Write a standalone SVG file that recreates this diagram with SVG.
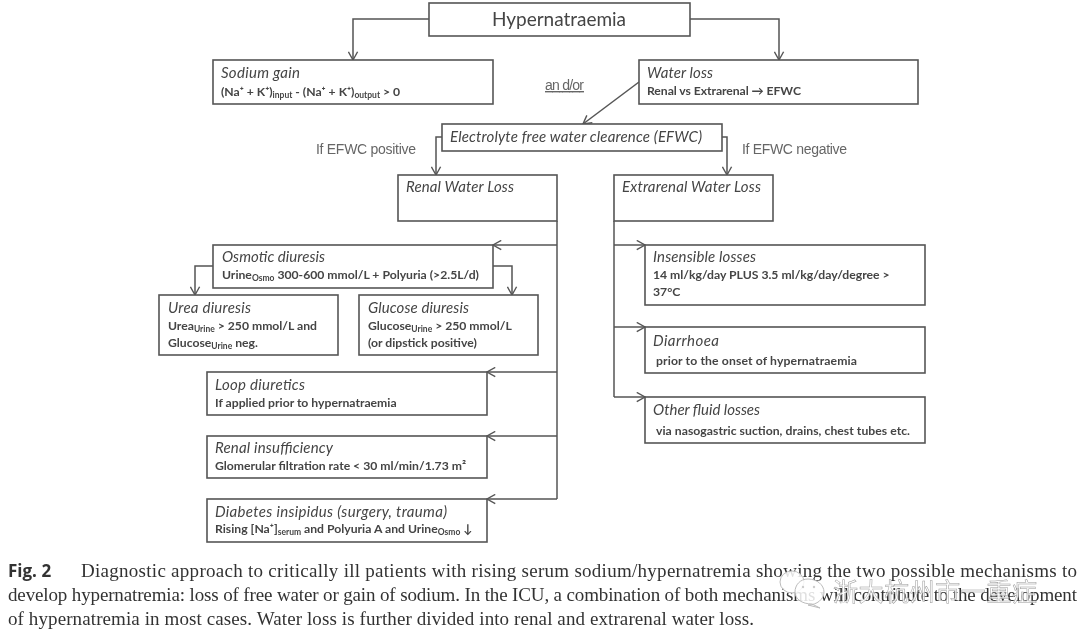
<svg xmlns="http://www.w3.org/2000/svg" width="1080" height="638" viewBox="0 0 1080 638">
<style>
.box{fill:#fff;stroke:#555;stroke-width:1.6}
.line{fill:none;stroke:#555;stroke-width:1.5}
.t{font-family:"Lato","Liberation Sans",sans-serif;font-size:15px;font-style:italic;fill:#444}
.d{font-family:"Lato","Liberation Sans",sans-serif;font-size:12.2px;font-weight:700;fill:#444}
.l{font-family:"Liberation Sans",Arial,sans-serif;font-size:14px;fill:#666}
.s{font-size:8.5px}
.c{font-family:"Liberation Serif",serif;font-size:19px;fill:#333}
.wm{font-family:"Noto Sans CJK SC",sans-serif;font-size:25px;fill:#fff;fill-opacity:.8;stroke:#999;stroke-width:.5}
.wi{fill:#fff;fill-opacity:.85;stroke:#bbb;stroke-width:1}
</style>
<defs>
<marker id="a" viewBox="0 0 12 12" refX="11" refY="6" markerWidth="11" markerHeight="11" markerUnits="userSpaceOnUse" orient="auto"><path d="M2 1L11 6L2 11" fill="none" stroke="#555" stroke-width="1.5"/></marker>
<filter id="b" x="-2%" y="-2%" width="104%" height="104%"><feGaussianBlur stdDeviation="0.35"/></filter>
</defs>
<rect width="1080" height="638" fill="#fff"/>
<g filter="url(#b)">
<g id="connectors">
<path class="line" marker-end="url(#a)" d="M429 19H353V60"/>
<path class="line" marker-end="url(#a)" d="M690 19H779V60"/>
<path class="line" marker-end="url(#a)" d="M639 82L583 124"/>
<path class="line" marker-end="url(#a)" d="M442 137H436V175"/>
<path class="line" marker-end="url(#a)" d="M722 137H727V175"/>
<path class="line" d="M557 221V499"/>
<path class="line" marker-end="url(#a)" d="M557 245H493"/>
<path class="line" marker-end="url(#a)" d="M557 372H487"/>
<path class="line" marker-end="url(#a)" d="M557 436H487"/>
<path class="line" marker-end="url(#a)" d="M557 499H487"/>
<path class="line" marker-end="url(#a)" d="M213 266H195V295"/>
<path class="line" marker-end="url(#a)" d="M493 266H512V295"/>
<path class="line" d="M614 221V397"/>
<path class="line" marker-end="url(#a)" d="M614 245H645"/>
<path class="line" marker-end="url(#a)" d="M614 327H645"/>
<path class="line" marker-end="url(#a)" d="M614 397H645"/>
</g>
<g id="hypernatraemia"><rect class="box" x="429" y="3" width="261" height="33"/><text x="492" y="26" font-family="Lato,'Liberation Sans',sans-serif" font-size="19" fill="#444" textLength="134">Hypernatraemia</text></g>
<g id="sodium-gain"><rect class="box" x="213" y="60" width="280" height="44"/><text class="t" x="221" y="78" textLength="79">Sodium gain</text><text class="d" x="221" y="96">(Na⁺ + K⁺)<tspan class="s" dy="2">input</tspan><tspan dy="-2">  - (Na⁺ + K⁺)</tspan><tspan class="s" dy="2">output</tspan><tspan dy="-2"> &gt; 0</tspan></text></g>
<g id="water-loss"><rect class="box" x="639" y="60" width="279" height="44"/><text class="t" x="647" y="78" textLength="66">Water loss</text><text class="d" x="647" y="95" textLength="154">Renal vs Extrarenal → EFWC</text></g>
<text class="l" x="545" y="90" text-decoration="underline" textLength="39">an d/or</text>
<g id="efwc"><rect class="box" x="442" y="124" width="280" height="27"/><text class="t" x="450" y="142" textLength="252">Electrolyte free water clearence (EFWC)</text></g>
<text class="l" x="316" y="154" textLength="100">If EFWC positive</text>
<text class="l" x="742" y="154" textLength="105">If EFWC negative</text>
<g id="renal-water-loss"><rect class="box" x="398" y="175" width="159" height="46"/><text class="t" x="406" y="192" textLength="108">Renal Water Loss</text></g>
<g id="extrarenal-water-loss"><rect class="box" x="614" y="175" width="159" height="46"/><text class="t" x="622" y="192" textLength="139">Extrarenal Water Loss</text></g>
<g id="osmotic-diuresis"><rect class="box" x="213" y="245" width="280" height="43"/><text class="t" x="222" y="262" textLength="103">Osmotic diuresis</text><text class="d" x="222" y="279">Urine<tspan class="s" dy="2">Osmo</tspan><tspan dy="-2"> 300-600 mmol/L + Polyuria (&gt;2.5L/d)</tspan></text></g>
<g id="urea-diuresis"><rect class="box" x="159" y="295" width="179" height="60"/><text class="t" x="168" y="313" textLength="83">Urea diuresis</text><text class="d" x="168" y="330">Urea<tspan class="s" dy="2">Urine</tspan><tspan dy="-2"> &gt; 250 mmol/L and</tspan></text><text class="d" x="168" y="347">Glucose<tspan class="s" dy="2">Urine</tspan><tspan dy="-2"> neg.</tspan></text></g>
<g id="glucose-diuresis"><rect class="box" x="359" y="295" width="179" height="60"/><text class="t" x="368" y="313" textLength="101">Glucose diuresis</text><text class="d" x="368" y="330">Glucose<tspan class="s" dy="2">Urine</tspan><tspan dy="-2"> &gt; 250 mmol/L</tspan></text><text class="d" x="368" y="347">(or dipstick positive)</text></g>
<g id="loop-diuretics"><rect class="box" x="207" y="372" width="280" height="43"/><text class="t" x="215" y="390" textLength="90">Loop diuretics</text><text class="d" x="215" y="407">If applied prior to hypernatraemia</text></g>
<g id="renal-insufficiency"><rect class="box" x="207" y="436" width="280" height="42"/><text class="t" x="215" y="453" textLength="118">Renal insufficiency</text><text class="d" x="215" y="470">Glomerular filtration rate &lt; 30 ml/min/1.73 m²</text></g>
<g id="diabetes-insipidus"><rect class="box" x="207" y="499" width="280" height="43"/><text class="t" x="215" y="517" textLength="232">Diabetes insipidus (surgery, trauma)</text><text class="d" x="215" y="533">Rising [Na⁺]<tspan class="s" dy="2">serum</tspan><tspan dy="-2"> and Polyuria A and Urine</tspan><tspan class="s" dy="2">Osmo</tspan><tspan dy="-2">  ↓</tspan></text></g>
<g id="insensible-losses"><rect class="box" x="645" y="245" width="280" height="60"/><text class="t" x="653" y="262" textLength="103">Insensible losses</text><text class="d" x="653" y="279">14 ml/kg/day PLUS 3.5 ml/kg/day/degree &gt;</text><text class="d" x="653" y="296">37°C</text></g>
<g id="diarrhoea"><rect class="box" x="645" y="327" width="280" height="46"/><text class="t" x="653" y="346" textLength="66">Diarrhoea</text><text class="d" x="656" y="365" textLength="201">prior to the onset of hypernatraemia</text></g>
<g id="other-fluid-losses"><rect class="box" x="645" y="397" width="280" height="46"/><text class="t" x="653" y="415" textLength="107">Other fluid losses</text><text class="d" x="656" y="435" textLength="254">via nasogastric suction, drains, chest tubes etc.</text></g>
<text x="8" y="577" font-family="'Open Sans','Liberation Sans',sans-serif" font-size="17" font-weight="700" fill="#333">Fig. 2</text>
<text class="c" x="81" y="577" textLength="996">Diagnostic approach to critically ill patients with rising serum sodium/hypernatremia showing the two possible mechanisms to</text>
<text class="c" x="8" y="601" textLength="1069">develop hypernatremia: loss of free water or gain of sodium. In the ICU, a combination of both mechanisms will contribute to the development</text>
<text class="c" x="8" y="625" textLength="746">of hypernatremia in most cases. Water loss is further divided into renal and extrarenal water loss.</text>
<g id="watermark">
<ellipse class="wi" cx="792" cy="582" rx="12" ry="11"/>
<path class="wi" d="M808 579C817 579 824 585 824 592C824 599 817 605 808 605L820 608L812 604C802 604 795 599 795 592C795 585 800 579 808 579Z"/>
<circle cx="803" cy="587" r="1.2" fill="#ccc"/><circle cx="814" cy="587" r="1.2" fill="#ccc"/>
<text class="wm" x="833" y="601" textLength="204">浙大杭州市一重症</text>
</g>
</g>
</svg>
